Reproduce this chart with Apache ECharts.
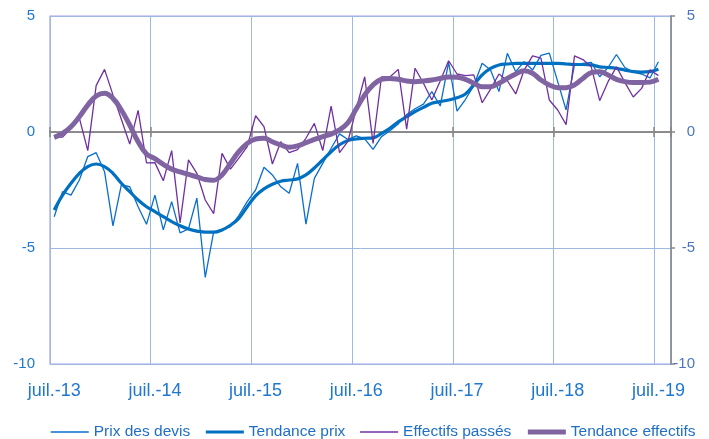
<!DOCTYPE html>
<html><head><meta charset="utf-8">
<script src="https://cdn.jsdelivr.net/npm/echarts@6/dist/echarts.min.js"></script>
<style>html,body{margin:0;padding:0;background:#fff}#c{width:709px;height:439px}</style>
</head><body><div id="c"></div>
<script>
const monthNames = ['janv.','févr.','mars','avr.','mai','juin','juil.','août','sept.','oct.','nov.','déc.'];
const firstYear = 2013, firstMonth = 6, categoryCount = 74;
const categories = [];
for (let k = 0; k < categoryCount; k++) {
  const m = (firstMonth + k) % 12;
  const y = firstYear + Math.floor((firstMonth + k) / 12);
  categories.push(monthNames[m] + '-' + String(y % 100).padStart(2, '0'));
}
const yMin = -10, yMax = 5, yStep = 5;

const prixDevis = [-3.65,-2.57,-2.72,-2.07,-1.06,-0.89,-1.71,-4.05,-2.28,-2.36,-3.22,-3.98,
  -2.72,-4.22,-3.0,-4.35,-4.18,-2.85,-6.27,-4.3,-4.2,-4.08,-3.6,-3.0,
  -2.5,-1.52,-1.85,-2.36,-2.64,-1.35,-3.97,-2.0,-1.35,-0.7,-0.08,-0.32,
  -0.17,-0.3,-0.75,-0.2,0.05,0.35,0.75,1.0,1.2,1.74,1.12,3.0,
  0.9,1.4,2.0,2.96,2.67,1.74,3.39,2.6,3.03,2.67,3.3,3.4,
  2.17,0.95,2.9,2.96,3.0,2.38,2.78,3.34,2.78,2.58,2.5,2.33,3.03];
const tendancePrix = [-3.36,-2.72,-2.21,-1.78,-1.49,-1.38,-1.49,-1.78,-2.21,-2.57,-2.93,-3.22,
  -3.43,-3.65,-3.86,-4.04,-4.18,-4.27,-4.32,-4.32,-4.22,-4.02,-3.72,-3.22,
  -2.75,-2.45,-2.25,-2.12,-2.07,-2.02,-1.85,-1.55,-1.2,-0.85,-0.55,-0.37,
  -0.3,-0.27,-0.25,-0.06,0.16,0.44,0.66,0.88,1.06,1.24,1.31,1.38,
  1.48,1.64,2.03,2.46,2.74,2.89,2.93,2.96,2.96,2.96,2.96,2.96,
  2.96,2.93,2.91,2.91,2.89,2.81,2.78,2.74,2.67,2.6,2.58,2.6,2.7];
const effectifs = [-0.22,-0.22,0.16,0.6,-0.8,2.0,2.7,1.6,0.55,-0.52,0.93,-1.33,
  -1.32,-2.1,-0.8,-3.92,-1.2,-1.78,-2.93,-3.52,-0.92,-1.6,-1.13,-0.63,
  0.7,0.23,-1.38,-0.42,-0.89,-0.76,-0.27,0.37,-0.8,1.12,-0.89,-0.4,
  1.0,2.38,-0.49,2.38,2.37,2.7,0.12,2.75,2.1,1.38,2.2,3.07,
  2.5,2.43,2.46,1.26,1.85,2.5,2.21,1.64,2.67,3.28,3.18,1.38,
  0.95,0.32,3.28,3.12,2.81,1.35,2.17,2.81,2.14,1.51,1.88,2.68,2.43];
const tendanceEffectifs = [-0.23,-0.06,0.23,0.66,1.16,1.55,1.67,1.45,0.95,0.3,-0.42,-0.95,
  -1.15,-1.4,-1.6,-1.72,-1.83,-1.93,-2.05,-2.08,-1.85,-1.35,-0.85,-0.49,
  -0.3,-0.27,-0.42,-0.56,-0.66,-0.6,-0.46,-0.32,-0.2,-0.09,0.09,0.4,
  1.0,1.6,2.03,2.27,2.31,2.27,2.2,2.17,2.2,2.24,2.31,2.37,
  2.36,2.27,2.1,1.95,1.95,2.1,2.31,2.5,2.64,2.53,2.24,2.03,
  1.91,1.91,2.03,2.31,2.56,2.6,2.46,2.27,2.17,2.13,2.13,2.15,2.27];

const seriesNames = ['Prix des devis','Tendance prix','Effectifs passés','Tendance effectifs'];
const seriesColors = ['#0A6FCC','#0070C0','#7030A0','#8064A2'];
const seriesWidths = [1.3, 3.2, 1.3, 5];
const FONT = 'Liberation Sans, Arial, sans-serif';
const gridLineColor = '#9DB8E2';
const zeroColor = '#878787';

function zeroAxis(yIdx, inside) {
  return {
    type: 'category', data: categories, boundaryGap: true, position: 'bottom',
    axisLine: { show: true, onZero: true, onZeroAxisIndex: yIdx, lineStyle: { color: zeroColor, width: 1.5 } },
    axisTick: { show: true, interval: 11, length: 5, inside: inside, lineStyle: { color: zeroColor, width: 1.5 } },
    axisLabel: { show: false }, splitLine: { show: false }
  };
}

const chart = echarts.init(document.getElementById('c'), null, { renderer: 'canvas' });
chart.setOption({
  animation: false,
  backgroundColor: '#ffffff',
  textStyle: { fontFamily: FONT },
  grid: { left: 50, right: 38, top: 16, bottom: 75, show: true, borderColor: '#A3A3F0', borderWidth: 1.2, backgroundColor: 'transparent' },
  legend: {
    left: 50, top: 424, padding: 0, itemWidth: 38, itemHeight: 14, itemGap: 14,
    itemStyle: { opacity: 0 },
    textStyle: { color: '#1F6FC6', fontSize: 15.5, fontFamily: FONT },
    data: seriesNames.map((n, i) => ({ name: n, lineStyle: { color: seriesColors[i], width: seriesWidths[i] === 1.3 ? 1.5 : seriesWidths[i] } }))
  },
  xAxis: [
    {
      type: 'category', data: categories, boundaryGap: true, position: 'bottom',
      axisLine: { show: false, onZero: false },
      axisTick: { show: false },
      axisLabel: { interval: 11, color: '#1F77D0', fontSize: 18, margin: 18, fontFamily: FONT },
      splitLine: { show: true, interval: 11, lineStyle: { color: gridLineColor, width: 1 } }
    },
    zeroAxis(0, false),
    zeroAxis(1, true)
  ],
  yAxis: [
    {
      type: 'value', min: yMin, max: yMax, interval: yStep, position: 'left',
      axisLine: { show: false }, axisTick: { show: false },
      axisLabel: { color: '#1F77D0', fontSize: 15, margin: 15, fontFamily: FONT },
      splitLine: { show: true, lineStyle: { color: gridLineColor, width: 1 } }
    },
    {
      type: 'value', min: yMin, max: yMax, interval: yStep, position: 'right',
      axisLine: { show: true, lineStyle: { color: zeroColor, width: 1.5 } },
      axisTick: { show: true, length: 4, lineStyle: { color: zeroColor, width: 1.5 } },
      axisLabel: { color: '#4A75BE', fontSize: 15, margin: 24, align: 'right', fontFamily: FONT },
      splitLine: { show: false }
    }
  ],
  series: seriesNames.map((n, i) => ({
    name: n, type: 'line',
    data: [prixDevis, tendancePrix, effectifs, tendanceEffectifs][i],
    symbol: 'none',
    smooth: (i % 2 === 1) ? 0.4 : false,
    lineStyle: { color: seriesColors[i], width: seriesWidths[i] },
    itemStyle: { color: seriesColors[i] },
    z: 3 + i
  }))
});
</script></body></html>
